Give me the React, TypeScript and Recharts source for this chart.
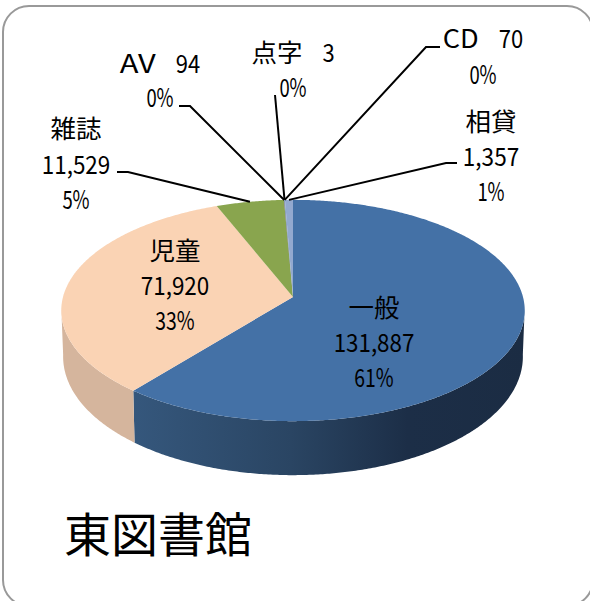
import { Pie, PieChart } from 'recharts'

const categories = ['一般', '児童', '雑誌', 'AV', '点字', 'CD', '相貸']
const holdings = [131887, 71920, 11529, 94, 3, 70, 1357]

const topColors = ['#4471A6', '#FAD3B4', '#89A54E', '#71588F', '#B0505A', '#4198AF', '#93A9CF']
const wallColors = ['url(#wallBlue)', '#D5B59D', '#748C42', '#5F4A78', '#8C3F48', '#367F94', '#7D90B0']

// text anchors: centre x, then the y of each line
const labelSpots = [
  { x: 374, ys: [306, 341, 376] },
  { x: 175, ys: [249, 284, 319] },
  { x: 76, ys: [127, 163, 198] },
  { x: 160, ys: [62, 96] },
  { x: 293, ys: [51, 86] },
  { x: 483, ys: [37, 73] },
  { x: 491, ys: [120, 155, 190] }
]

// leader start and elbow, only for labels outside the pie
const leaders: Record<number, number[][]> = {
  2: [[117, 172], [128, 172]],
  3: [[179, 106], [190, 106]],
  4: [[275, 95]],
  5: [[440, 47], [426, 47]],
  6: [[457, 163], [446, 163]]
}

const rows = categories.map((name, i) => ({ name, value: holdings[i], fill: topColors[i] }))
const wallRows = categories.map((name, i) => ({ name, value: holdings[i], fill: wallColors[i] }))

const RAD = Math.PI / 180
const APEX_X = 293
const APEX_Y = 297
const TILT = 0.122
const NAME_GAP = 20

/** Tilts a point of the unit circle the way the 3D pie was projected. */
function project(deg: number): { x: number; y: number; v: number } {
  const u = Math.cos(deg * RAD)
  const v = Math.sin(deg * RAD)
  const d = 1 + TILT * v
  return { x: APEX_X + (230 * u) / d, y: APEX_Y - (109 * v) / d, v }
}

function arcPoints(from: number, to: number): { x: number; y: number; v: number }[] {
  const n = Math.max(2, Math.ceil(Math.abs(to - from) * 2))
  return Array.from({ length: n + 1 }, (_, i) => project(from + ((to - from) * i) / n))
}

// the reference font has half-width digits, so squeeze each line to that width
function lineWidth(text: string): number {
  let w = 0
  for (const ch of text) {
    if (ch === ',') w += 7.5
    else if (ch === '%') w += 15
    else if (ch >= '0' && ch <= '9') w += 12.2
    else if (ch >= 'A' && ch <= 'Z') w += 18
    else w += 25.5
  }
  return w
}

function TopSlice(props: any): React.JSX.Element {
  const pts = arcPoints(props.startAngle, props.endAngle)
  const d = `M${APEX_X},${APEX_Y} ` + pts.map((p) => `L${p.x},${p.y}`).join(' ') + ' Z'
  return <path d={d} fill={props.fill} />
}

function WallSlice(props: any): React.JSX.Element {
  const pts = arcPoints(props.startAngle, props.endAngle).filter((p) => p.v < -0.1)
  if (pts.length < 2) return <g />
  const lower = pts.map((p) => ({
    x: APEX_X + (p.x - APEX_X) * 0.992,
    y: p.y + 45 - 9 * p.v
  }))
  const d =
    pts.map((p, i) => `${i ? 'L' : 'M'}${p.x},${p.y}`).join(' ') +
    ' ' +
    lower
      .reverse()
      .map((p) => `L${p.x},${p.y}`)
      .join(' ') +
    ' Z'
  return <path d={d} fill={props.fill} />
}

function Line({ text, x, y, anchor = 'middle' }: { text: string; x: number; y: number; anchor?: string }): React.JSX.Element {
  return (
    <text
      x={x}
      y={y}
      textAnchor={anchor}
      dominantBaseline="central"
      fontFamily="'Noto Sans CJK JP'"
      fontSize={25}
      textLength={lineWidth(text)}
      lengthAdjust="spacingAndGlyphs"
      fill="#000"
    >
      {text}
    </text>
  )
}

function SliceLabel(props: any): React.JSX.Element {
  const { index, midAngle, percent } = props
  const spot = labelSpots[index]
  const name = categories[index]
  const pct = `${Math.round(percent * 100)}%`
  const amount = holdings[index].toLocaleString('en-US')
  const tip = project(midAngle)
  const leader = leaders[index]
  const oneRow = spot.ys.length === 2
  const left = spot.x - (lineWidth(name) + NAME_GAP + lineWidth(amount)) / 2
  return (
    <g>
      {leader && (
        <polyline
          points={[...leader, [tip.x, tip.y]].map((p) => p.join(',')).join(' ')}
          fill="none"
          stroke="#000"
          strokeWidth={2}
        />
      )}
      {oneRow ? (
        <>
          <Line text={name} x={left} y={spot.ys[0]} anchor="start" />
          <Line text={amount} x={left + lineWidth(name) + NAME_GAP} y={spot.ys[0]} anchor="start" />
          <Line text={pct} x={spot.x} y={spot.ys[1]} />
        </>
      ) : (
        <>
          <Line text={name} x={spot.x} y={spot.ys[0]} />
          <Line text={amount} x={spot.x} y={spot.ys[1]} />
          <Line text={pct} x={spot.x} y={spot.ys[2]} />
        </>
      )}
    </g>
  )
}

export default function App(): React.JSX.Element {
  return (
    <div
      style={{
        position: 'absolute',
        left: 0,
        top: 0,
        width: 590,
        height: 601,
        background: '#fff',
        overflow: 'hidden'
      }}
    >
      <div
        style={{
          position: 'absolute',
          boxSizing: 'border-box',
          left: 2,
          top: 4.5,
          width: 592,
          height: 602,
          border: '2.5px solid #999',
          borderRadius: 27
        }}
      />
      <div
        style={{
          position: 'absolute',
          left: 64,
          top: 498,
          fontFamily: "'Noto Sans CJK JP'",
          fontSize: 47,
          lineHeight: '68px',
          whiteSpace: 'nowrap'
        }}
      >
        東図書館
      </div>
      <div style={{ position: 'absolute', left: 0, top: 0 }}>
        <PieChart width={590} height={601} margin={{ top: 0, right: 0, bottom: 0, left: 0 }}>
          <defs>
            <linearGradient id="wallBlue" gradientUnits="userSpaceOnUse" x1={135} y1={0} x2={525} y2={0}>
              <stop offset="0%" stopColor="#35577C" />
              <stop offset="40%" stopColor="#2A4563" />
              <stop offset="70%" stopColor="#1C2E47" />
              <stop offset="100%" stopColor="#1B2C43" />
            </linearGradient>
          </defs>
          <Pie
            data={wallRows}
            dataKey="value"
            nameKey="name"
            cx={APEX_X}
            cy={APEX_Y}
            outerRadius={100}
            startAngle={90}
            endAngle={-270}
            shape={WallSlice}
            label={false}
            isAnimationActive={false}
          />
          <Pie
            data={rows}
            dataKey="value"
            nameKey="name"
            cx={APEX_X}
            cy={APEX_Y}
            outerRadius={100}
            startAngle={90}
            endAngle={-270}
            shape={TopSlice}
            label={SliceLabel}
            labelLine={false}
            isAnimationActive={false}
          />
        </PieChart>
      </div>
    </div>
  )
}
